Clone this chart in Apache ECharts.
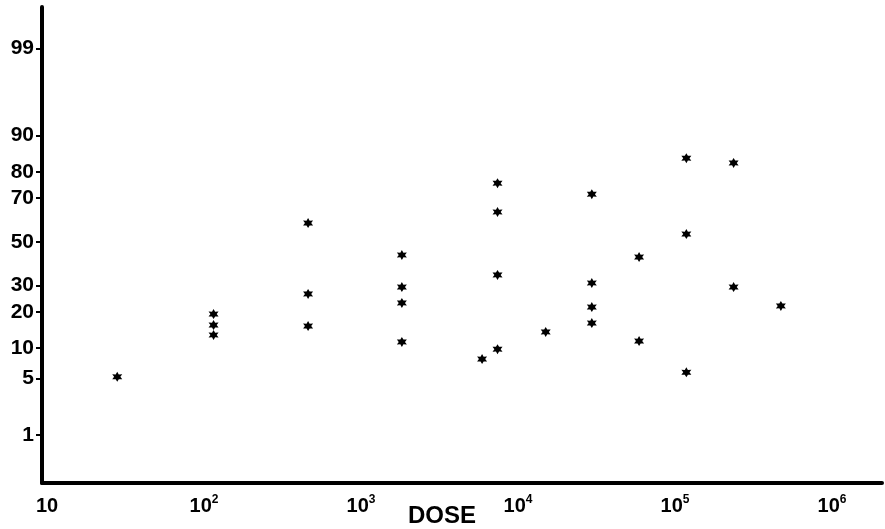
<!DOCTYPE html>
<html>
<head>
<meta charset="utf-8">
<script src="https://cdn.jsdelivr.net/npm/echarts@6/dist/echarts.min.js"></script>
<style>html,body{margin:0;padding:0;background:#fff;}#c{width:885px;height:529px;}</style>
</head>
<body>
<div id="c"></div>
<script>
// ---- data ----
const doses = [28, 115, 115, 115, 460, 460, 460, 1820, 1820, 1820, 1820, 5900,
  7400, 7400, 7400, 7400, 15000, 29500, 29500, 29500, 29500, 59000, 59000,
  118000, 118000, 118000, 236000, 236000, 472000];
const responses = [5.2, 19.2, 15.8, 13.1, 58.9, 26.5, 15.5, 43.7, 29.3, 23.1, 11.4, 7.9,
  76.0, 64.0, 34.5, 9.8, 13.9, 71.7, 31.0, 21.6, 16.4, 42.7, 11.6,
  84.3, 53.7, 5.8, 82.9, 29.3, 22.0];
const yTickLabels = [1, 5, 10, 20, 30, 50, 70, 80, 90, 99];
const xTickExponents = [1, 2, 3, 4, 5, 6];

// inverse normal CDF (Acklam)
function probit(p) {
  const a = [-3.969683028665376e+01, 2.209460984245205e+02, -2.759285104469687e+02, 1.383577518672690e+02, -3.066479806614716e+01, 2.506628277459239e+00];
  const b = [-5.447609879822406e+01, 1.615858368580409e+02, -1.556989798598866e+02, 6.680131188771972e+01, -1.328068155288572e+01];
  const c = [-7.784894002430293e-03, -3.223964580411365e-01, -2.400758277161838e+00, -2.549732539343734e+00, 4.374664141464968e+00, 2.938163982698783e+00];
  const d = [7.784695709041462e-03, 3.224671290700398e-01, 2.445134137142996e+00, 3.754408661907416e+00];
  const pl = 0.02425;
  let q, r;
  if (p < pl) {
    q = Math.sqrt(-2 * Math.log(p));
    return (((((c[0]*q+c[1])*q+c[2])*q+c[3])*q+c[4])*q+c[5]) / ((((d[0]*q+d[1])*q+d[2])*q+d[3])*q+1);
  } else if (p <= 1 - pl) {
    q = p - 0.5; r = q * q;
    return (((((a[0]*r+a[1])*r+a[2])*r+a[3])*r+a[4])*r+a[5])*q / (((((b[0]*r+b[1])*r+b[2])*r+b[3])*r+b[4])*r+1);
  } else {
    q = Math.sqrt(-2 * Math.log(1 - p));
    return -(((((c[0]*q+c[1])*q+c[2])*q+c[3])*q+c[4])*q+c[5]) / ((((d[0]*q+d[1])*q+d[2])*q+d[3])*q+1);
  }
}

const yTickValues = yTickLabels.map(v => probit(v / 100));
const points = doses.map((d, i) => [Math.log10(d), probit(responses[i] / 100)]);

// asterisk symbol
let pts = [];
for (let i = 0; i < 12; i++) {
  const ang = (-90 + i * 30) * Math.PI / 180;
  const r = i % 2 === 0 ? 50 : 27;
  pts.push((50 + r * Math.cos(ang)).toFixed(2) + ' ' + (50 + r * Math.sin(ang)).toFixed(2));
}
const asterisk = 'path://M' + pts.join(' L') + ' Z';

const chart = echarts.init(document.getElementById('c'), null, {renderer: 'canvas'});
chart.setOption({
  backgroundColor: '#fff',
  animation: false,
  title: {
    text: 'DOSE', left: 403, top: 499,
    textStyle: {fontFamily: 'Liberation Sans', fontWeight: 'bold', fontSize: 24, color: '#000'}
  },
  grid: {left: 42, right: 3, top: 7, bottom: 46},
  xAxis: {
    type: 'value', min: 0.968, max: 6.318,
    axisLine: {show: true, onZero: false, lineStyle: {color: '#000', width: 4}},
    axisTick: {show: false},
    splitLine: {show: false},
    axisLabel: {
      customValues: xTickExponents,
      margin: 11,
      formatter: v => {
        const e = Math.round(v);
        return e === 1 ? '{b|10}' : '{b|10}{s|' + e + '}';
      },
      rich: {
        b: {fontFamily: 'Liberation Sans', fontWeight: 'bold', fontSize: 20, color: '#000', lineHeight: 24},
        s: {fontFamily: 'Liberation Sans', fontWeight: 'bold', fontSize: 12, color: '#000', lineHeight: 24, padding: [0, 0, 12, 0]}
      }
    }
  },
  yAxis: {
    type: 'value', min: -2.904, max: 2.827,
    axisLine: {show: true, onZero: false, lineStyle: {color: '#000', width: 4}},
    axisTick: {show: true, customValues: yTickValues, length: 6, lineStyle: {color: '#000', width: 2}},
    splitLine: {show: false},
    axisLabel: {
      customValues: yTickValues,
      margin: 8,
      fontFamily: 'Liberation Sans', fontWeight: 'bold', fontSize: 21, color: '#000',
      formatter: v => {
        let best = 0, bd = Infinity;
        yTickValues.forEach((t, i) => { const dd = Math.abs(t - v); if (dd < bd) { bd = dd; best = i; } });
        return String(yTickLabels[best]);
      }
    }
  },
  series: [{
    type: 'scatter',
    data: points,
    symbol: asterisk,
    symbolSize: 10,
    itemStyle: {color: '#000', opacity: 1}
  }]
});
</script>
</body>
</html>
